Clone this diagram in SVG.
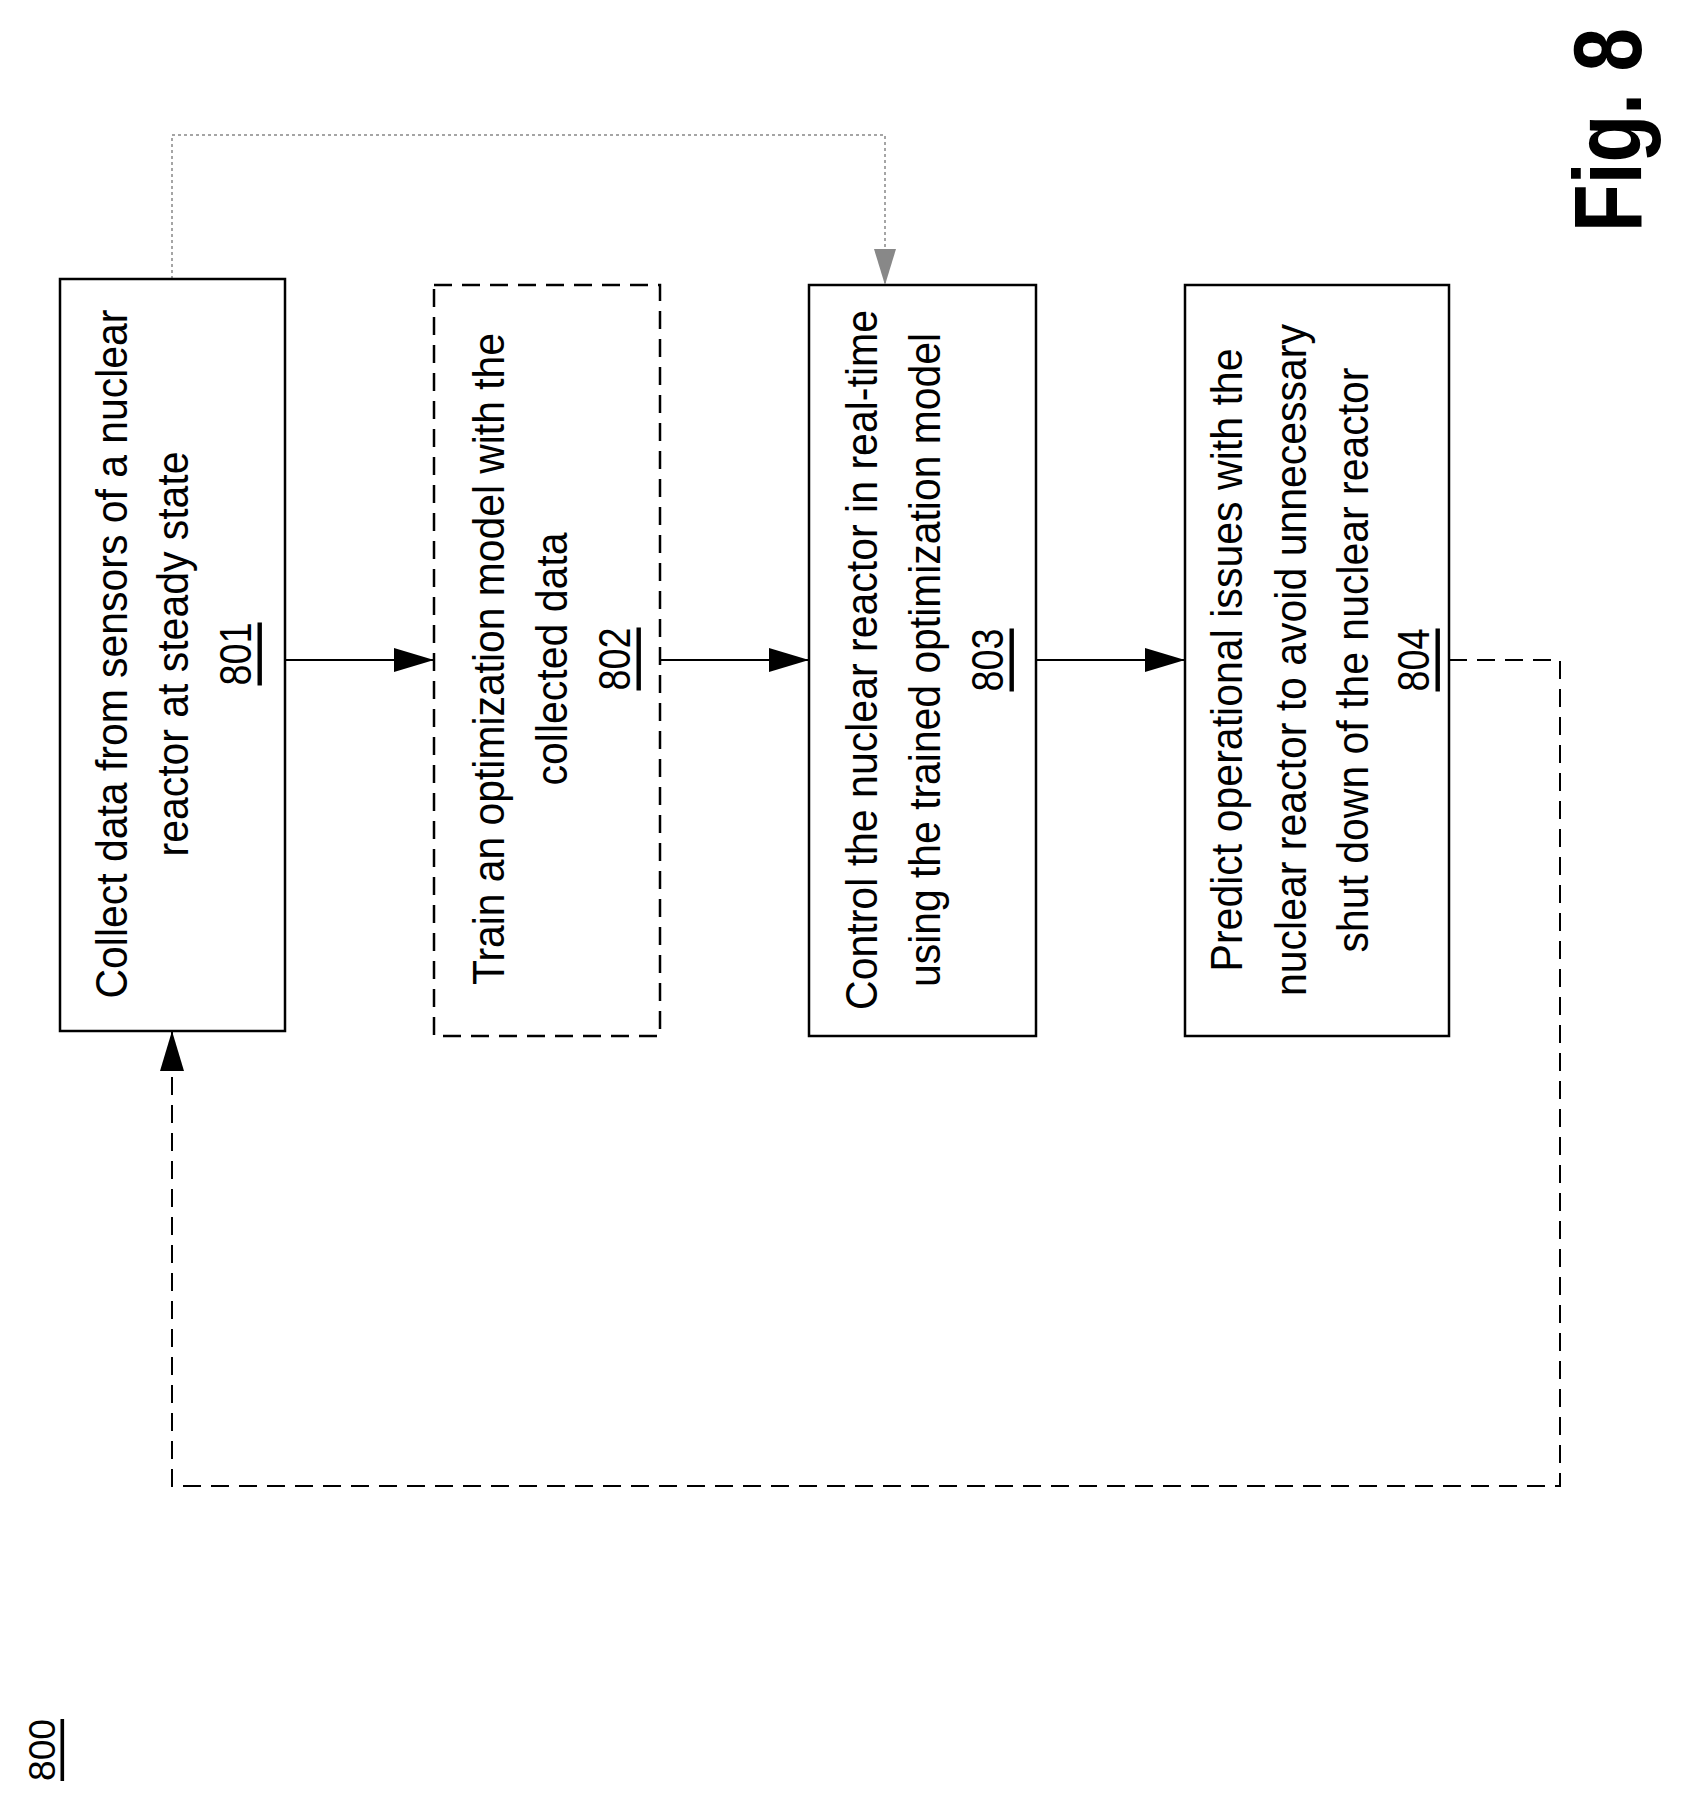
<svg xmlns="http://www.w3.org/2000/svg" width="1681" height="1798" viewBox="0 0 1681 1798">
<style>
.box{fill:#fff;stroke:#000;stroke-width:2.5}
.dash{stroke-dasharray:18,10}
text{font-family:"Liberation Sans",Arial,sans-serif;font-size:44px;fill:#000;text-anchor:middle;dominant-baseline:central}
.u{text-decoration:underline}
.c{fill:none;stroke:#000;stroke-width:2}
</style>
<defs>
<marker id="ab" markerWidth="40" markerHeight="24" refX="40" refY="12" orient="auto" markerUnits="userSpaceOnUse"><path d="M0,0 L40,12 L0,24 z" fill="#000"/></marker>
<marker id="ag" markerWidth="36" markerHeight="22" refX="36" refY="11" orient="auto" markerUnits="userSpaceOnUse"><path d="M0,0 L36,11 L0,22 z" fill="#888"/></marker>
</defs>
<g id="connectors">
<line class="c" x1="285" y1="660" x2="434" y2="660" marker-end="url(#ab)"/>
<line class="c" x1="660" y1="660" x2="809" y2="660" marker-end="url(#ab)"/>
<line class="c" x1="1036" y1="660" x2="1185" y2="660" marker-end="url(#ab)"/>
<polyline class="c dash" points="1449,660 1560,660 1560,1486 172,1486 172,1031" marker-end="url(#ab)"/>
<polyline class="c" style="stroke:#888;stroke-width:1.5;stroke-dasharray:3,3" points="172,279 172,135 885,135 885,285" marker-end="url(#ag)"/>
</g>
<g id="n801">
<rect class="box" x="60" y="279" width="225" height="752"/>
<g transform="translate(0,654)">
<text transform="translate(111,0) rotate(-90)" textLength="689" lengthAdjust="spacingAndGlyphs">Collect data from sensors of a nuclear</text>
<text transform="translate(172,0) rotate(-90)" textLength="405" lengthAdjust="spacingAndGlyphs">reactor at steady state</text>
<text class="u" transform="translate(235,0) rotate(-90)" textLength="63" lengthAdjust="spacingAndGlyphs">801</text>
</g>
</g>
<g id="n802">
<rect class="box dash" x="434" y="285" width="226" height="751"/>
<g transform="translate(0,659)">
<text transform="translate(488,0) rotate(-90)" textLength="652" lengthAdjust="spacingAndGlyphs">Train an optimization model with the</text>
<text transform="translate(551,0) rotate(-90)" textLength="253" lengthAdjust="spacingAndGlyphs">collected data</text>
<text class="u" transform="translate(614,0) rotate(-90)" textLength="63" lengthAdjust="spacingAndGlyphs">802</text>
</g>
</g>
<g id="n803">
<rect class="box" x="809" y="285" width="227" height="751"/>
<g transform="translate(0,660)">
<text transform="translate(861,0) rotate(-90)" textLength="700" lengthAdjust="spacingAndGlyphs">Control the nuclear reactor in real-time</text>
<text transform="translate(924,0) rotate(-90)" textLength="654" lengthAdjust="spacingAndGlyphs">using the trained optimization model</text>
<text class="u" transform="translate(987,0) rotate(-90)" textLength="63" lengthAdjust="spacingAndGlyphs">803</text>
</g>
</g>
<g id="n804">
<rect class="box" x="1185" y="285" width="264" height="751"/>
<g transform="translate(0,660)">
<text transform="translate(1226,0) rotate(-90)" textLength="623" lengthAdjust="spacingAndGlyphs">Predict operational issues with the</text>
<text transform="translate(1290,0) rotate(-90)" textLength="672" lengthAdjust="spacingAndGlyphs">nuclear reactor to avoid unnecessary</text>
<text transform="translate(1352,0) rotate(-90)" textLength="585" lengthAdjust="spacingAndGlyphs">shut down of the nuclear reactor</text>
<text class="u" transform="translate(1413,0) rotate(-90)" textLength="63" lengthAdjust="spacingAndGlyphs">804</text>
</g>
</g>
<text transform="translate(1607,130) rotate(-90)" style="font-size:96px;font-weight:bold" textLength="204" lengthAdjust="spacingAndGlyphs">Fig. 8</text>
<text class="u" transform="translate(42,1750) rotate(-90)" style="font-size:36px" textLength="62" lengthAdjust="spacingAndGlyphs">800</text>
</svg>
